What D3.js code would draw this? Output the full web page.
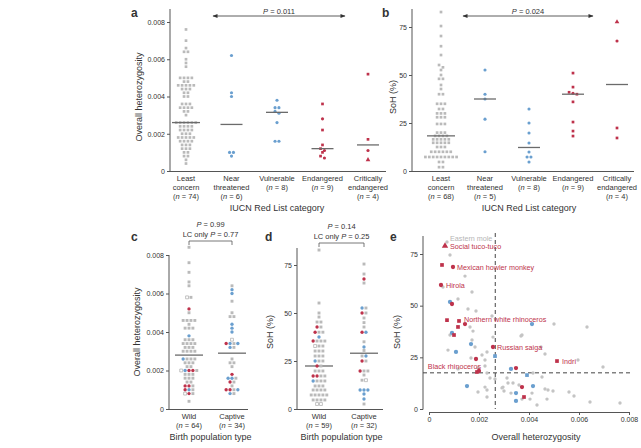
<!DOCTYPE html>
<html>
<head>
<meta charset="utf-8">
<style>
  body { margin: 0; background: #fff; }
  svg text { font-family: "Liberation Sans", Arial, sans-serif; fill: #333; }
  .tick line { stroke: #555; }
</style>
</head>
<body>
<svg width="641" height="448"></svg>
<script src="https://d3js.org/d3.v7.min.js"></script>
<script>
// ---- data ----
const iucnCats = ["Least concern", "Near threatened", "Vulnerable", "Endangered", "Critically endangered"];
const iucnLines = [["Least", "concern"], ["Near", "threatened"], ["Vulnerable"], ["Endangered"], ["Critically", "endangered"]];

// panel a: overall heterozygosity by IUCN category
const hetLC = [0.0076, 0.0070, 0.0066, 0.0064, 0.0064, 0.0060, 0.0058, 0.0056,
  0.0050, 0.0050, 0.0050, 0.0050, 0.0048, 0.0048, 0.0046, 0.0046, 0.0046, 0.0046, 0.0046,
  0.0044, 0.0044, 0.0044, 0.0042, 0.0042, 0.0040, 0.0040, 0.0036, 0.0036, 0.0036,
  0.0034, 0.0034, 0.0034, 0.0034, 0.0032, 0.0032, 0.0030,
  0.0026, 0.0026, 0.0026, 0.0026, 0.0026, 0.0026,
  0.0024, 0.0024, 0.0024, 0.0024, 0.0022, 0.0022, 0.0022, 0.0022, 0.0020, 0.0020, 0.0020,
  0.0018, 0.0018, 0.0018, 0.0018, 0.0018, 0.0016, 0.0016, 0.0016, 0.0016,
  0.0014, 0.0014, 0.0014, 0.0012, 0.0012, 0.0012, 0.0010, 0.0010, 0.0008, 0.0008, 0.0006, 0.0004];
const hetNT = [0.0062, 0.0042, 0.0040, 0.0010, 0.0010, 0.0008];
const hetVU = [0.0038, 0.0034, 0.0034, 0.0032, 0.0031, 0.0026, 0.0016, 0.0016];
const hetEN = [0.0036, [0.0028, "r"], 0.0022, 0.0014, 0.0012, [0.0011, "r"], 0.0010, 0.0008, [0.0007, "r"]];
const hetCR = [0.0052, 0.0017, [0.0011, "r"], [0.0006, "t"]];

// panel b: SoH (%) by IUCN category
const sohLC = [82.8, 75.5, 70.3, 65, 60.4, 55.2, 54, 52.6, 50, 48, 48, 44.8, 42.7, 40, 40,
  35, 35, 35, 32.3, 32.3, 30, 30, 30, 28, 28, 28, 24.5, 24.5, 24.5, 20, 20, 20,
  18.3, 18.3, 18.3, 18.3, 16.5, 16.5, 16.5, 16.5, 16.5, 14.7, 14.7, 14.7, 14.7, 14.7,
  12.5, 12.5, 12.5, 10, 10, 10, 10, 10, 10, 7.3, 7.3, 7.3, 7.3, 7.3, 7.3, 7.3, 7.3, 7.3,
  4.7, 4.7, 2, 2];
const sohNT = [52.6, 40, 37.5, 27, 10];
const sohVU = [32.3, 25, 19.8, 14.6, 9.9, 7.3, 7.3, 4.7];
const sohEN = [51, 43.7, 41, [40.5, "r"], 40, 36, 25.5, 20.8, 18.2];
const sohCR = [[77.6, "t"], [67.7, "r"], 22.4, 17.2];

// panels c, d: by birth population type (g grey, b blue, r red, o open)
const birthCats = ["Wild", "Captive"];
const hetWild = [[0.0084, "g"], [0.0076, "g"], [0.0071, "g"], [0.0066, "g"], [0.0064, "g"], [0.0058, "o"], [0.0058, "g"],
  [0.0052, "r"], [0.0050, "g"], [0.0046, "g"], [0.0046, "g"], [0.0046, "g"], [0.0046, "g"], [0.0044, "g"],
  [0.0042, "g"], [0.0042, "g"], [0.0042, "g"], [0.0038, "b"], [0.0036, "g"], [0.0036, "g"], [0.0036, "g"],
  [0.0034, "g"], [0.0034, "g"], [0.0034, "g"], [0.0034, "g"], [0.0032, "g"], [0.0032, "g"], [0.0032, "g"],
  [0.0030, "g"], [0.0030, "g"], [0.0030, "g"], [0.0030, "g"], [0.0026, "b"], [0.0026, "g"], [0.0026, "g"], [0.0026, "g"],
  [0.0024, "g"], [0.0024, "g"], [0.0024, "g"], [0.0022, "g"], [0.0022, "g"],
  [0.0020, "o"], [0.0020, "b"], [0.0020, "r"], [0.0020, "r"], [0.0020, "g"],
  [0.0018, "g"], [0.0018, "g"], [0.0018, "g"], [0.0016, "g"], [0.0016, "g"], [0.0016, "g"], [0.0014, "g"], [0.0014, "g"],
  [0.0012, "r"], [0.0012, "r"], [0.0012, "g"], [0.0010, "r"], [0.0010, "b"], [0.0010, "g"],
  [0.0008, "o"], [0.0008, "r"], [0.0008, "g"], [0.0004, "g"]];
const hetCaptive = [[0.0064, "g"], [0.0062, "b"], [0.0060, "b"], [0.0056, "g"], [0.0050, "g"], [0.0048, "g"], [0.0048, "g"],
  [0.0044, "b"], [0.0042, "b"], [0.0040, "b"], [0.0036, "o"], [0.0034, "r"], [0.0034, "b"], [0.0034, "g"], [0.0034, "b"],
  [0.0032, "b"], [0.0032, "g"], [0.0026, "g"], [0.0024, "g"], [0.0024, "g"], [0.0022, "g"], [0.0018, "r"],
  [0.0016, "b"], [0.0016, "b"], [0.0016, "g"], [0.0014, "r"], [0.0014, "g"], [0.0012, "g"],
  [0.0010, "r"], [0.0010, "r"], [0.0010, "g"], [0.0010, "b"], [0.0008, "b"], [0.0008, "g"]];
const sohWild = [[82.8, "g"], [55.2, "g"], [50, "g"], [47.9, "g"], [45.3, "g"], [45.3, "g"], [42.7, "r"], [42.7, "g"],
  [40, "r"], [40, "g"], [40, "g"], [37.5, "b"], [35.4, "r"], [35.4, "g"], [35.4, "g"], [35.4, "g"],
  [32.8, "o"], [32.8, "g"], [32.8, "g"], [30.2, "g"], [30.2, "g"], [30.2, "g"], [27.6, "g"], [27.6, "g"], [27.6, "g"],
  [25, "b"], [25, "g"], [25, "g"], [22.4, "r"], [22.4, "g"], [19.8, "g"], [19.8, "g"], [19.8, "g"],
  [17.2, "r"], [17.2, "r"], [17.2, "g"], [17.2, "g"], [14.6, "b"], [14.6, "g"], [14.6, "g"], [14.6, "g"],
  [12, "g"], [12, "g"], [12, "g"], [9.9, "g"], [9.9, "g"], [9.9, "g"], [9.9, "g"],
  [7.3, "g"], [7.3, "g"], [7.3, "g"], [7.3, "g"], [7.3, "g"], [4.7, "g"], [4.7, "g"], [4.7, "g"], [4.7, "g"],
  [2.6, "o"], [2.6, "o"]];
const sohCaptive = [[75.5, "g"], [70.3, "g"], [67.7, "r"], [65.6, "g"], [52.6, "b"], [52.6, "g"], [50, "r"], [50, "g"],
  [47.4, "g"], [45, "g"], [42.7, "g"], [40, "r"], [40, "b"], [35, "g"], [32.3, "b"], [30.5, "g"],
  [27.6, "g"], [27.6, "b"], [25, "r"], [25, "g"], [19.8, "r"], [19.8, "g"], [19.8, "g"], [17.7, "g"],
  [15, "g"], [15, "o"], [9.9, "b"], [9.9, "b"], [9.9, "b"], [7.8, "b"], [5.2, "b"], [2.6, "g"]];

// panel e: heterozygosity vs SoH per species (r/R red, t red triangle, b/B blue, g grey)
const eSpecies = [
  [0.00064, 78.9, "t"], [0.00052, 69.7, "R"], [0.00096, 68.7, "r"], [0.00048, 60.0, "r"], [0.00092, 50.8, "r"],
  [0.00072, 43.0, "R"], [0.00120, 42.6, "R"], [0.00116, 39.7, "R"], [0.00144, 41.1, "r"], [0.00100, 35.8, "R"],
  [0.00256, 30.0, "r"], [0.00188, 24.2, "r"], [0.00192, 17.9, "R"], [0.00200, 18.4, "r"], [0.00348, 19.8, "r"],
  [0.00512, 23.2, "R"], [0.00372, 10.6, "r"], [0.00380, 5.8, "R"],
  [0.00084, 51.8, "b"], [0.00092, 36.8, "b"], [0.00108, 27.6, "b"], [0.00168, 31.4, "b"], [0.00264, 25.6, "B"],
  [0.00152, 11.1, "b"], [0.00328, 19.4, "b"], [0.00392, 16.4, "B"], [0.00416, 11.1, "b"], [0.00348, 7.7, "b"],
  [0.00348, 3.9, "b"], [0.00412, 41.1, "b"],
  [0.00072, 80.8, "g"], [0.00084, 74.5, "g"], [0.00144, 64.3, "g"], [0.00056, 59.0, "g"], [0.00172, 56.6, "g"],
  [0.00116, 53.2, "g"], [0.00156, 48.4, "g"], [0.00188, 47.4, "g"], [0.00252, 45.0, "g"], [0.00164, 39.7, "g"],
  [0.00176, 37.7, "g"], [0.00084, 35.8, "g"], [0.00256, 34.8, "g"], [0.00172, 33.4, "g"], [0.00184, 30.0, "g"],
  [0.00076, 28.5, "g"], [0.00232, 27.6, "g"], [0.00212, 26.1, "g"], [0.00168, 24.7, "g"], [0.00224, 23.7, "g"],
  [0.00196, 19.8, "g"], [0.00224, 20.8, "g"], [0.00116, 19.4, "g"], [0.00232, 17.4, "g"], [0.00244, 15.0, "g"],
  [0.00196, 8.2, "g"], [0.00224, 10.6, "g"], [0.00232, 5.8, "g"], [0.00232, 9.2, "g"], [0.00296, 10.6, "g"],
  [0.00372, 35.8, "g"], [0.00464, 26.6, "g"], [0.00596, 23.7, "g"], [0.00696, 20.3, "g"], [0.00416, 17.4, "g"],
  [0.00452, 15.5, "g"], [0.00312, 15.0, "g"], [0.00264, 14.5, "g"], [0.00360, 11.6, "g"], [0.00336, 12.6, "g"],
  [0.00316, 12.6, "g"], [0.00300, 8.7, "g"], [0.00328, 7.7, "g"], [0.00292, 10.2, "g"], [0.00464, 9.7, "g"],
  [0.00476, 9.2, "g"], [0.00496, 8.7, "g"], [0.00412, 7.7, "g"], [0.00372, 4.8, "g"], [0.00404, 4.8, "g"],
  [0.00560, 8.2, "g"], [0.00580, 6.3, "g"], [0.00472, 4.8, "g"], [0.00432, 1.9, "g"], [0.00644, 3.4, "g"],
  [0.00764, 2.9, "g"], [0.00500, 41.1, "g"], [0.00632, 39.7, "g"], [0.00368, 35.3, "g"], [0.00448, 30.0, "g"]];
const eLabels = [
  ["Eastern mole", 0.00072, 80.8], ["Social tuco-tuco", 0.00064, 78.9], ["Mexican howler monkey", 0.00096, 68.7],
  ["Hirola", 0.00048, 60.0], ["Northern white rhinoceros", 0.00120, 42.6], ["Russian saiga", 0.00256, 30.0],
  ["Indri", 0.00512, 23.2], ["Black rhinoceros", 0.00192, 17.9]];
const hetMedianAll = 0.00265;
const sohMedianAll = 17.5;

const hetTicks = [0, 0.002, 0.004, 0.006, 0.008];
const sohTicks = [0, 25, 50, 75];
const pA = "0.011", pB = "0.024";
const pC = ["0.99", "0.77"], pD = ["0.14", "0.25"];

// ---- drawing ----
const svg = d3.select("svg");
const red = "#be324b", blue = "#6a9fcf", grey = "#bababa", ink = "#333", axisCol = "#555";
const hetFmt = v => v === 0 ? "0" : d3.format(".3f")(v);

const defs = svg.append("defs");
defs.append("marker").attr("id", "ah").attr("viewBox", "0 0 10 10")
  .attr("refX", 9).attr("refY", 5).attr("markerWidth", 6).attr("markerHeight", 5)
  .attr("markerUnits", "userSpaceOnUse").attr("orient", "auto-start-reverse")
  .append("path").attr("d", "M0,1L10,5L0,9z").attr("fill", ink);

function norm(arr, code) {
  return arr.map(v => typeof v === "number" ? {v, c: code} : {v: v[0], c: v[1]});
}

function symbolFor(c, s) {
  const types = {g: d3.symbolSquare, o: d3.symbolSquare, b: d3.symbolCircle, B: d3.symbolSquare,
    r: d3.symbolCircle, R: d3.symbolSquare, t: d3.symbolTriangle};
  const area = (c === "b" || c === "r") ? Math.PI * (s * 0.58) ** 2 : (c === "t" ? s * s * 1.3 : s * s);
  return d3.symbol().type(types[c]).size(area)();
}
function colFor(c) {
  return {g: grey, o: grey, b: blue, B: blue, r: red, R: red, t: red}[c];
}

function drawPts(g, pts, s) {
  g.selectAll(null).data(pts).join("path")
    .attr("transform", d => `translate(${d.px},${d.py})`)
    .attr("d", d => symbolFor(d.c, s))
    .attr("fill", d => d.c === "o" ? "#fff" : colFor(d.c))
    .attr("stroke", d => d.c === "o" ? "#aaa" : "none")
    .attr("stroke-width", 0.7);
}

function swarm(pts, cx, y, dx) {
  const s = pts.map((p, i) => ({...p, i, py: y(p.v)})).sort((a, b) => a.py - b.py || a.i - b.i);
  const rows = [];
  s.forEach(p => {
    const r = rows[rows.length - 1];
    if (r && p.py - r.y0 < 2.6) r.items.push(p); else rows.push({y0: p.py, items: [p]});
  });
  rows.forEach(r => r.items.forEach((p, k) => { p.px = cx + (k - (r.items.length - 1) / 2) * dx; }));
  return s;
}

function leftAxis(x0, y, ticks, fmt, yTop) {
  const g = svg.append("g").attr("transform", `translate(${x0},0)`)
    .call(d3.axisLeft(y).tickValues(ticks).tickFormat(fmt).tickSize(3).tickPadding(2));
  g.attr("font-size", 7);
  g.select(".domain").remove();
  g.append("line").attr("y1", y(0) + 0.5).attr("y2", yTop).attr("stroke", axisCol);
}

function catLabels(x, lines, n, y0) {
  lines.forEach((l, i) => {
    const t = svg.append("text").attr("x", x).attr("y", y0 + i * 9).attr("text-anchor", "middle")
      .attr("font-size", 7.5);
    t.text(l);
  });
  const t = svg.append("text").attr("x", x).attr("y", y0 + lines.length * 9)
    .attr("text-anchor", "middle").attr("font-size", 7.5);
  t.append("tspan").text("(");
  t.append("tspan").attr("font-style", "italic").text("n");
  t.append("tspan").text(` = ${n})`);
}

function title(x, y, txt, rot) {
  svg.append("text").attr("x", x).attr("y", y).attr("text-anchor", "middle").attr("font-size", 9)
    .attr("transform", rot ? `rotate(-90,${x},${y})` : null).attr("dy", rot ? "0.35em" : null).text(txt);
}
function letter(x, y, l) {
  svg.append("text").attr("x", x).attr("y", y).attr("font-size", 12).attr("font-weight", "bold")
    .attr("fill", "#111").text(l);
}
function pText(x, y, prefix, p) {
  const t = svg.append("text").attr("x", x).attr("y", y).attr("text-anchor", "middle").attr("font-size", 7.5);
  if (prefix) t.append("tspan").text(prefix);
  t.append("tspan").attr("font-style", "italic").text("P");
  t.append("tspan").text(` = ${p}`);
}

function medLine(g, cx, yv, w) {
  g.append("line").attr("x1", cx - w / 2).attr("x2", cx + w / 2).attr("y1", yv).attr("y2", yv)
    .attr("stroke", "#6b6b6b").attr("stroke-width", 1.3);
}

// panels a and b
function iucnPanel(cfg) {
  const x = d3.scalePoint().domain(iucnCats).range(cfg.xr);
  const y = d3.scaleLinear().domain(cfg.dom).range(cfg.yr);
  const codes = ["g", "b", "b", "R", "R"];
  leftAxis(cfg.ax, y, cfg.ticks, cfg.fmt, 9);
  svg.append("line").attr("x1", cfg.ax - 0.5).attr("x2", cfg.axEnd).attr("y1", y(0) + 0.5).attr("y2", y(0) + 0.5)
    .attr("stroke", axisCol);
  const g = svg.append("g");
  cfg.data.forEach((arr, i) => {
    const pts = swarm(norm(arr, codes[i]), x(iucnCats[i]), y, 3.9);
    drawPts(g, pts, 2.7);
    medLine(g, x(iucnCats[i]), y(d3.median(pts, d => d.v)), i === 0 ? 28 : 22);
    catLabels(x(iucnCats[i]), iucnLines[i], arr.length, 181);
  });
  title((cfg.xr[0] + cfg.xr[1]) / 2, 211, "IUCN Red List category");
  title(cfg.titleX, 97, cfg.yTitle, true);
  letter(cfg.letterX, 17, cfg.letter);
  svg.append("line").attr("x1", cfg.arrow[0]).attr("x2", cfg.arrow[1]).attr("y1", 16).attr("y2", 16)
    .attr("stroke", ink).attr("stroke-width", 0.8)
    .attr("marker-start", "url(#ah)").attr("marker-end", "url(#ah)");
  pText((cfg.arrow[0] + cfg.arrow[1]) / 2, 13.5, null, cfg.p);
}

iucnPanel({xr: [186, 368], dom: [0, 0.008], yr: [171, 22], ax: 170, axEnd: 386, ticks: hetTicks, fmt: hetFmt,
  data: [hetLC, hetNT, hetVU, hetEN, hetCR], titleX: 139, yTitle: "Overall heterozygosity",
  letterX: 131, letter: "a", arrow: [213, 345], p: pA});
iucnPanel({xr: [441, 617], dom: [0, 75], yr: [171, 27], ax: 412, axEnd: 634, ticks: sohTicks, fmt: d3.format("d"),
  data: [sohLC, sohNT, sohVU, sohEN, sohCR], titleX: 393, yTitle: "SoH (%)",
  letterX: 382, letter: "b", arrow: [463, 593], p: pB});

// panels c and d
function birthPanel(cfg) {
  const x = d3.scalePoint().domain(birthCats).range(cfg.xr);
  const y = d3.scaleLinear().domain(cfg.dom).range([409, cfg.yTopTick]);
  leftAxis(cfg.ax, y, cfg.ticks, cfg.fmt, cfg.axTop);
  svg.append("line").attr("x1", cfg.ax - 0.5).attr("x2", cfg.axEnd).attr("y1", 409.5).attr("y2", 409.5)
    .attr("stroke", axisCol);
  const g = svg.append("g");
  cfg.data.forEach((arr, i) => {
    const cx = x(birthCats[i]);
    const pts = swarm(norm(arr, "g"), cx, y, 3.9);
    medLine(g, cx, y(d3.median(pts, d => d.v)), 28);
    drawPts(g, pts, 2.9);
    catLabels(cx, [birthCats[i]], arr.length, 419);
  });
  const [x1, x2] = cfg.xr;
  svg.append("path").attr("d", `M${x1},${cfg.br + 4}V${cfg.br}H${x2}V${cfg.br + 4}`)
    .attr("fill", "none").attr("stroke", axisCol).attr("stroke-width", 0.8);
  pText((x1 + x2) / 2, cfg.br - 14, null, cfg.p[0]);
  pText((x1 + x2) / 2, cfg.br - 4, "LC only ", cfg.p[1]);
  title((x1 + x2) / 2, 440, "Birth population type");
  title(cfg.titleX, 332, cfg.yTitle, true);
  letter(cfg.letterX, 241, cfg.letter);
}

birthPanel({xr: [189, 232], dom: [0, 0.008], yTopTick: 255, ax: 169, axTop: 255, axEnd: 248,
  ticks: hetTicks, fmt: hetFmt, data: [hetWild, hetCaptive], br: 241, p: pC,
  titleX: 137, yTitle: "Overall heterozygosity", letterX: 131, letter: "c"});
birthPanel({xr: [319, 364], dom: [0, 75], yTopTick: 265, ax: 297, axTop: 248, axEnd: 383,
  ticks: sohTicks, fmt: d3.format("d"), data: [sohWild, sohCaptive], br: 243, p: pD,
  titleX: 270, yTitle: "SoH (%)", letterX: 265, letter: "d"});

// panel e
{
  const x = d3.scaleLinear().domain([0, 0.008]).range([429, 629]);
  const y = d3.scaleLinear().domain([0, 75]).range([409, 254]);
  leftAxis(423, y, sohTicks, d3.format("d"), 236);
  const gx = svg.append("g").attr("transform", "translate(0,412)")
    .call(d3.axisBottom(x).tickValues(hetTicks).tickFormat(hetFmt).tickSize(3).tickPadding(2));
  gx.attr("font-size", 7);
  gx.select(".domain").attr("stroke", axisCol).attr("d", `M${x(0)},0.5H${x(0.008)}`);

  svg.append("line").attr("x1", x(hetMedianAll)).attr("x2", x(hetMedianAll)).attr("y1", 233).attr("y2", 409)
    .attr("stroke", "#444").attr("stroke-dasharray", "4,3");
  svg.append("line").attr("x1", 423).attr("x2", 631).attr("y1", y(sohMedianAll)).attr("y2", y(sohMedianAll))
    .attr("stroke", "#444").attr("stroke-dasharray", "4,3");

  const order = {g: 0, b: 1, B: 1, r: 2, R: 2, t: 2};
  const pts = eSpecies.map(d => ({px: x(d[0]), py: y(d[1]), c: d[2]})).sort((a, b) => order[a.c] - order[b.c]);
  const g = svg.append("g");
  g.selectAll(null).data(pts).join("path")
    .attr("transform", d => `translate(${d.px},${d.py})`)
    .attr("d", d => {
      if (d.c === "g") return d3.symbol().type(d3.symbolCircle).size(Math.PI * 1.7 * 1.7)();
      return symbolFor(d.c, 3.7);
    })
    .attr("fill", d => d.c === "g" ? "#c4c4c4" : colFor(d.c));

  // label placement (text offsets from each point)
  const offs = {"Eastern mole": [3, -1.5, "start"], "Social tuco-tuco": [5, 3.5, "start"],
    "Mexican howler monkey": [4, 3, "start"], "Hirola": [5, 3, "start"],
    "Northern white rhinoceros": [5, 1, "start"], "Russian saiga": [4, 3, "start"],
    "Indri": [5, 3, "start"], "Black rhinoceros": [4, -3.5, "end"]};
  eLabels.forEach(([name, h, s]) => {
    const [dx, dy, anc] = offs[name];
    svg.append("text").attr("x", x(h) + dx).attr("y", y(s) + dy).attr("text-anchor", anc)
      .attr("font-size", 7.2).style("fill", name === "Eastern mole" ? "#b5b5b5" : red).text(name);
  });

  title(536, 440, "Overall heterozygosity");
  title(397, 332, "SoH (%)", true);
  letter(390, 241, "e");
}
</script>
</body>
</html>
